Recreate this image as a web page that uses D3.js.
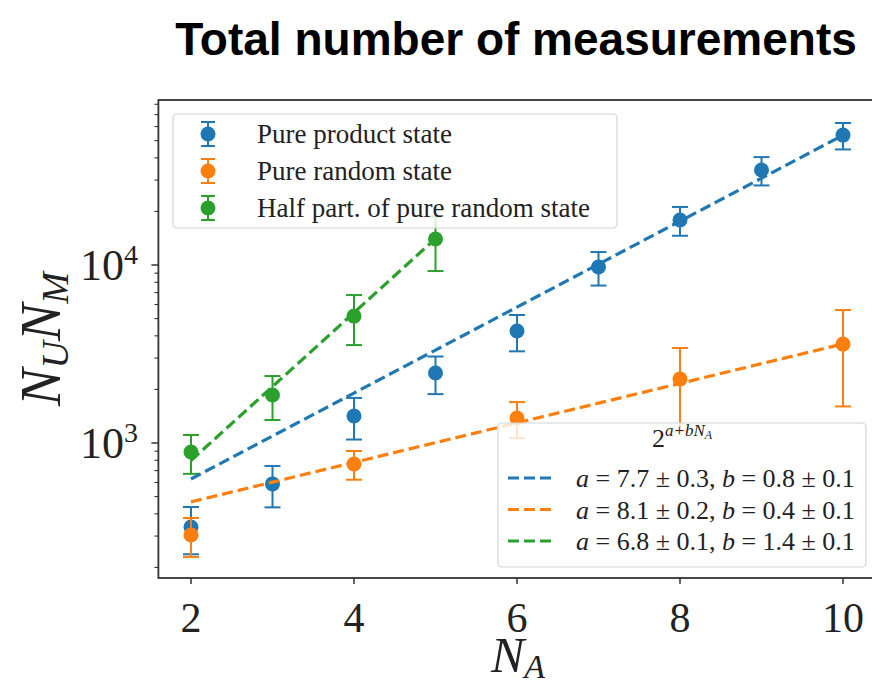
<!DOCTYPE html>
<html lang="en">
<head>
<meta charset="utf-8">
<style>
  body { margin: 0; padding: 0; background: #ffffff; }
  svg text { font-family: "Liberation Serif", "DejaVu Serif", serif; fill: #222; }
  .title { font-family: "Liberation Sans", Arial, sans-serif; font-weight: bold; fill: #000; }
</style>
<script src="https://cdn.jsdelivr.net/npm/d3@7"></script>
</head>
<body>
<div id="chart"></div>
<script>
var productN = [2, 3, 4, 5, 6, 7, 8, 9, 10];
var productVals = [337, 589, 1419, 2472, 4256, 9747, 17900, 34200, 53700];
var productErr = [100, 154, 373, 590, 982, 2080, 3300, 6200, 9100];

var randomN = [2, 4, 6, 8, 10];
var randomVals = [304, 762, 1381, 2291, 3595];
var randomErr = [75, 140, 317, 1129, 1990];

var halfN = [2, 3, 4, 5];
var halfVals = [890, 1862, 5165, 13990];
var halfErr = [219, 516, 1615, 4740];

var seriesNames = ["Pure product state", "Pure random state", "Half part. of pure random state"];
var colors = ["#1f77b4", "#ff7f0e", "#2ca02c"];

// fits 2^(a + b N_A)
var fitA = [7.69, 8.13, 6.88];
var fitB = [0.802, 0.3685, 1.38];
var fitFrom = [2, 2, 2];
var fitTo = [10, 10, 5];
var fitLabels = [
  ["7.7", "0.3", "0.8", "0.1"],
  ["8.1", "0.2", "0.4", "0.1"],
  ["6.8", "0.1", "1.4", "0.1"]
];

var xTicks = [2, 4, 6, 8, 10];
var yMajor = [1e3, 1e4];

var width = 872, height = 684;
var svg = d3.select("#chart").append("svg")
  .attr("width", width).attr("height", height);

var x = d3.scaleLinear().domain([1.6, 10.4]).range([158.4, 875.6]);
var y = d3.scaleLog().domain([174.4, 84560]).range([578, 100]);

svg.append("text").attr("class", "title")
  .attr("x", 516).attr("y", 55)
  .attr("text-anchor", "middle")
  .style("font-size", "46px")
  .text("Total number of measurements");

// frame
var x0 = x.range()[0], x1 = x.range()[1], yb = y.range()[0], yt = y.range()[1];
svg.append("rect")
  .attr("x", x0).attr("y", yt)
  .attr("width", x1 - x0).attr("height", yb - yt)
  .attr("fill", "none").attr("stroke", "#333").attr("stroke-width", 1.8);

// x ticks
svg.append("g").selectAll("line").data(xTicks).enter().append("line")
  .attr("x1", function(d){ return x(d); }).attr("x2", function(d){ return x(d); })
  .attr("y1", yb).attr("y2", yb + 6)
  .attr("stroke", "#333").attr("stroke-width", 1.5);
svg.append("g").selectAll("text").data(xTicks).enter().append("text")
  .attr("x", function(d){ return x(d); }).attr("y", 632)
  .attr("text-anchor", "middle")
  .style("font-size", "42px")
  .text(function(d){ return d; });

// y ticks (log, minor ones too)
var yTicks = y.ticks();
svg.append("g").selectAll("line").data(yTicks).enter().append("line")
  .attr("x1", x0)
  .attr("x2", function(d){ return yMajor.indexOf(d) >= 0 ? x0 - 7 : x0 - 4; })
  .attr("y1", function(d){ return y(d); }).attr("y2", function(d){ return y(d); })
  .attr("stroke", "#333").attr("stroke-width", function(d){ return yMajor.indexOf(d) >= 0 ? 1.5 : 1.1; });

var yl = svg.append("g").selectAll("text").data(yMajor).enter().append("text")
  .attr("x", 138).attr("y", function(d){ return y(d) + 15; })
  .attr("text-anchor", "end")
  .style("font-size", "44px");
yl.append("tspan").text("10");
yl.append("tspan").attr("dy", -16).style("font-size", "28px")
  .text(function(d){ return Math.round(Math.log10(d)); });

// axis labels
var xlab = svg.append("text").attr("x", 518).attr("y", 672)
  .attr("text-anchor", "middle").style("font-size", "50px").style("font-style", "italic");
xlab.append("tspan").text("N");
xlab.append("tspan").attr("dy", 6).style("font-size", "34px").text("A");

var ylab = svg.append("text")
  .attr("transform", "translate(60,339) rotate(-90)")
  .attr("text-anchor", "middle").style("font-size", "56px").style("font-style", "italic");
ylab.append("tspan").text("N");
ylab.append("tspan").attr("dy", 8).style("font-size", "38px").text("U");
ylab.append("tspan").attr("dy", -8).text("N");
ylab.append("tspan").attr("dy", 8).style("font-size", "38px").text("M");

// error bars + markers
var series = [
  { n: productN, v: productVals, e: productErr },
  { n: randomN, v: randomVals, e: randomErr },
  { n: halfN, v: halfVals, e: halfErr }
];
var plot = svg.append("g");
series.forEach(function(s, k){
  var pts = s.n.map(function(n, i){ return { n: n, v: s.v[i], e: s.e[i] }; });
  var g = plot.append("g").attr("stroke", colors[k]).attr("fill", colors[k]);
  g.selectAll(".eb").data(pts).enter().append("line")
    .attr("x1", function(d){ return x(d.n); }).attr("x2", function(d){ return x(d.n); })
    .attr("y1", function(d){ return y(d.v + d.e); }).attr("y2", function(d){ return y(d.v - d.e); })
    .attr("stroke-width", 2);
  [1, -1].forEach(function(sg){
    g.selectAll(".cap" + sg).data(pts).enter().append("line")
      .attr("x1", function(d){ return x(d.n) - 8; }).attr("x2", function(d){ return x(d.n) + 8; })
      .attr("y1", function(d){ return y(d.v + sg * d.e); }).attr("y2", function(d){ return y(d.v + sg * d.e); })
      .attr("stroke-width", 2);
  });
  g.selectAll("circle").data(pts).enter().append("circle")
    .attr("cx", function(d){ return x(d.n); }).attr("cy", function(d){ return y(d.v); })
    .attr("r", 7.5).attr("stroke", "none");
});

// fit lines
var line = d3.line().x(function(d){ return x(d[0]); }).y(function(d){ return y(d[1]); });
fitA.forEach(function(a, k){
  var pts = d3.range(fitFrom[k], fitTo[k] + 1).map(function(n){ return [n, Math.pow(2, a + fitB[k] * n)]; });
  plot.append("path").attr("d", line(pts))
    .attr("fill", "none").attr("stroke", colors[k])
    .attr("stroke-width", 3.2).attr("stroke-dasharray", "11,5");
});

// legend 1 (series)
var lg1 = svg.append("g");
lg1.append("rect").attr("x", 173).attr("y", 114).attr("width", 444).attr("height", 114)
  .attr("rx", 4).attr("fill", "#fff").attr("fill-opacity", 0.8)
  .attr("stroke", "#d4d4d4").attr("stroke-width", 1.2);
seriesNames.forEach(function(name, k){
  var cy = 134 + k * 37, cx = 208;
  var g = lg1.append("g").attr("stroke", colors[k]).attr("fill", colors[k]);
  g.append("line").attr("x1", cx).attr("x2", cx).attr("y1", cy - 12).attr("y2", cy + 12).attr("stroke-width", 2);
  g.append("line").attr("x1", cx - 7).attr("x2", cx + 7).attr("y1", cy - 12).attr("y2", cy - 12).attr("stroke-width", 2);
  g.append("line").attr("x1", cx - 7).attr("x2", cx + 7).attr("y1", cy + 12).attr("y2", cy + 12).attr("stroke-width", 2);
  g.append("circle").attr("cx", cx).attr("cy", cy).attr("r", 7.5).attr("stroke", "none");
  lg1.append("text").attr("x", 257).attr("y", cy + 9).style("font-size", "27px").text(name);
});

// legend 2 (fits)
var lg2 = svg.append("g");
lg2.append("rect").attr("x", 498).attr("y", 423).attr("width", 368).attr("height", 144)
  .attr("rx", 4).attr("fill", "#fff").attr("fill-opacity", 0.8)
  .attr("stroke", "#d4d4d4").attr("stroke-width", 1.2);
var t2 = lg2.append("text").attr("x", 682).attr("y", 447).attr("text-anchor", "middle").style("font-size", "26px");
t2.append("tspan").text("2");
t2.append("tspan").attr("dy", -11).style("font-size", "17px").style("font-style", "italic").text("a+bN");
t2.append("tspan").attr("dy", 3).style("font-size", "12px").style("font-style", "italic").text("A");

fitLabels.forEach(function(p, k){
  var cy = 478 + k * 31.5;
  lg2.append("line").attr("x1", 508).attr("x2", 553).attr("y1", cy).attr("y2", cy)
    .attr("stroke", colors[k]).attr("stroke-width", 3).attr("stroke-dasharray", "11,5");
  var t = lg2.append("text").attr("x", 576).attr("y", cy + 9).style("font-size", "26px")
    .attr("xml:space", "preserve");
  t.append("tspan").style("font-style", "italic").text("a");
  t.append("tspan").text(" = " + p[0] + " \u00b1 " + p[1] + ", ");
  t.append("tspan").style("font-style", "italic").text("b");
  t.append("tspan").text(" = " + p[2] + " \u00b1 " + p[3]);
});
</script>
</body>
</html>
